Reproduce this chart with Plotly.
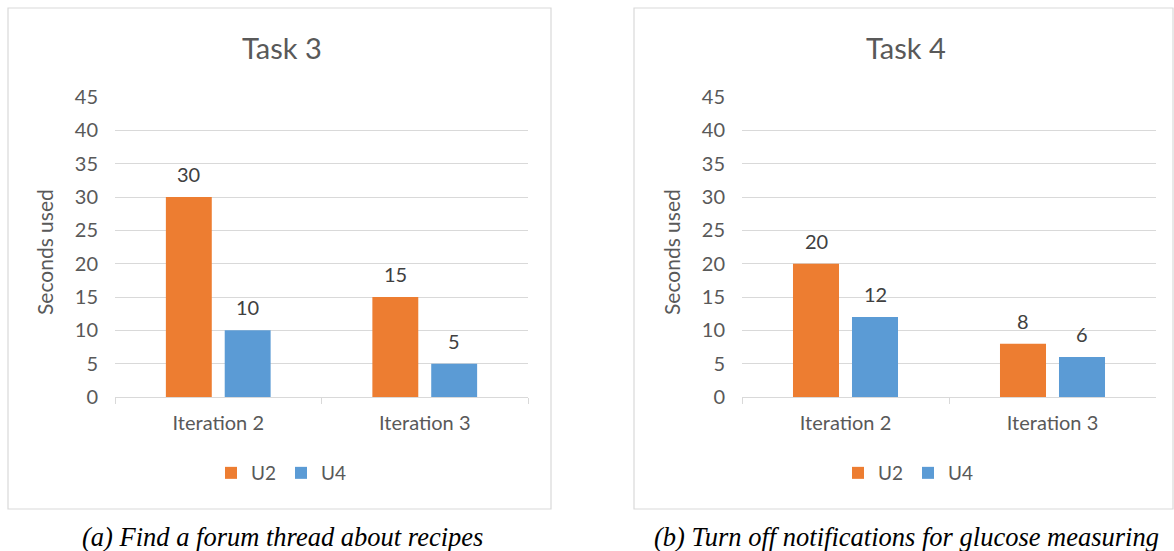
import plotly.graph_objects as go

# Task completion times (seconds) per iteration
iterations = ["Iteration 2", "Iteration 3"]
task3_u2 = [30, 15]
task3_u4 = [10, 5]
task4_u2 = [20, 8]
task4_u4 = [12, 6]

panel_titles = ["Task 3", "Task 4"]
captions = ["(a) Find a forum thread about recipes",
            "(b) Turn off notifications for glucose measuring"]
series_names = ["U2", "U4"]

W, H = 1174, 551
ORANGE = "#ED7D31"
BLUE = "#5B9BD5"
TEXT = "#595959"
GRID = "#D9D9D9"
FONT = "Lato, 'Open Sans', sans-serif"


def px_x(x):
    return x / W


def px_y(y):
    return 1 - y / H


fig = go.Figure()

panels = [
    dict(u2=task3_u2, u4=task3_u4, xa="x", ya="y", legend="legend",
         box=(8, 8, 551, 509), plot=(115, 528)),
    dict(u2=task4_u2, u4=task4_u4, xa="x2", ya="y2", legend="legend2",
         box=(634, 8, 1173, 509), plot=(742, 1156)),
]

plot_top, plot_bottom = 97, 397

for i, p in enumerate(panels):
    for name, vals, col in zip(series_names, [p["u2"], p["u4"]], [ORANGE, BLUE]):
        fig.add_trace(go.Bar(
            x=iterations, y=vals, name=name, marker=dict(color=col, line=dict(width=0)),
            xaxis=p["xa"], yaxis=p["ya"], legend=p["legend"],
            hoverinfo="x+y+name",
        ))
        # value labels above bars
        for cat, v in zip(iterations, vals):
            fig.add_annotation(
                x=cat, y=v, xref=p["xa"], yref=p["ya"], text=str(v),
                showarrow=False, yanchor="middle", yshift=23,
                xshift=-29.5 if name == "U2" else 29.5,
                font=dict(family=FONT, size=20, color="#404040"),
            )

    x0, y0, x1, y1 = p["box"]
    fig.add_shape(type="rect", xref="paper", yref="paper",
                  x0=px_x(x0), x1=px_x(x1), y0=px_y(y1), y1=px_y(y0),
                  line=dict(color=GRID, width=1.2), fillcolor="rgba(0,0,0,0)",
                  layer="below")

    cx = (x0 + x1) / 2
    fig.add_annotation(x=px_x(cx + 2), y=px_y(47), xref="paper", yref="paper",
                       text=panel_titles[i], showarrow=False,
                       xanchor="center", yanchor="middle",
                       font=dict(family=FONT, size=29, color=TEXT))
    fig.add_annotation(x=px_x(p["plot"][0] - 70), y=px_y(252), xref="paper", yref="paper",
                       text="Seconds used", showarrow=False, textangle=-90,
                       xanchor="center", yanchor="middle",
                       font=dict(family=FONT, size=21, color=TEXT))
    fig.add_annotation(x=px_x(cx + 3), y=px_y(537), xref="paper", yref="paper",
                       text="<i>" + captions[i] + "</i>", showarrow=False,
                       xanchor="center", yanchor="middle",
                       font=dict(family="'Liberation Serif', 'DejaVu Serif', serif",
                                 size=26.5, color="#000000"))

axis_common = dict(
    type="category", showline=True, linecolor=GRID, linewidth=1,
    ticks="outside", tickson="boundaries", ticklen=6, tickcolor=GRID,
    showgrid=False, tickfont=dict(family=FONT, size=20, color=TEXT),
    ticklabelstandoff=8, fixedrange=True,
)
yaxis_common = dict(
    range=[0, 45], dtick=5, tick0=0, showgrid=True, gridcolor=GRID, gridwidth=1,
    zeroline=False, showline=False, ticks="",
    tickfont=dict(family=FONT, size=20, color=TEXT),
    ticklabelstandoff=16, fixedrange=True,
)

legend_common = dict(
    orientation="h", xanchor="center", yanchor="middle",
    font=dict(family=FONT, size=19, color=TEXT),
    itemwidth=30, bgcolor="rgba(0,0,0,0)",
)

ydom = [px_y(plot_bottom), px_y(plot_top)]
fig.update_layout(
    width=W, height=H,
    margin=dict(l=0, r=0, t=0, b=0, autoexpand=False),
    paper_bgcolor="white", plot_bgcolor="white",
    barmode="group", bargap=0.43, bargroupgap=0.22,
    xaxis=dict(domain=[px_x(115), px_x(528)], anchor="y", **axis_common),
    yaxis=dict(domain=ydom, anchor="x", **yaxis_common),
    xaxis2=dict(domain=[px_x(742), px_x(1156)], anchor="y2", **axis_common),
    yaxis2=dict(domain=ydom, anchor="x2", **yaxis_common),
    legend=dict(x=px_x(281), y=px_y(473), **legend_common),
    legend2=dict(x=px_x(908), y=px_y(473), **legend_common),
    showlegend=True,
)

fig.write_html("out.html")
